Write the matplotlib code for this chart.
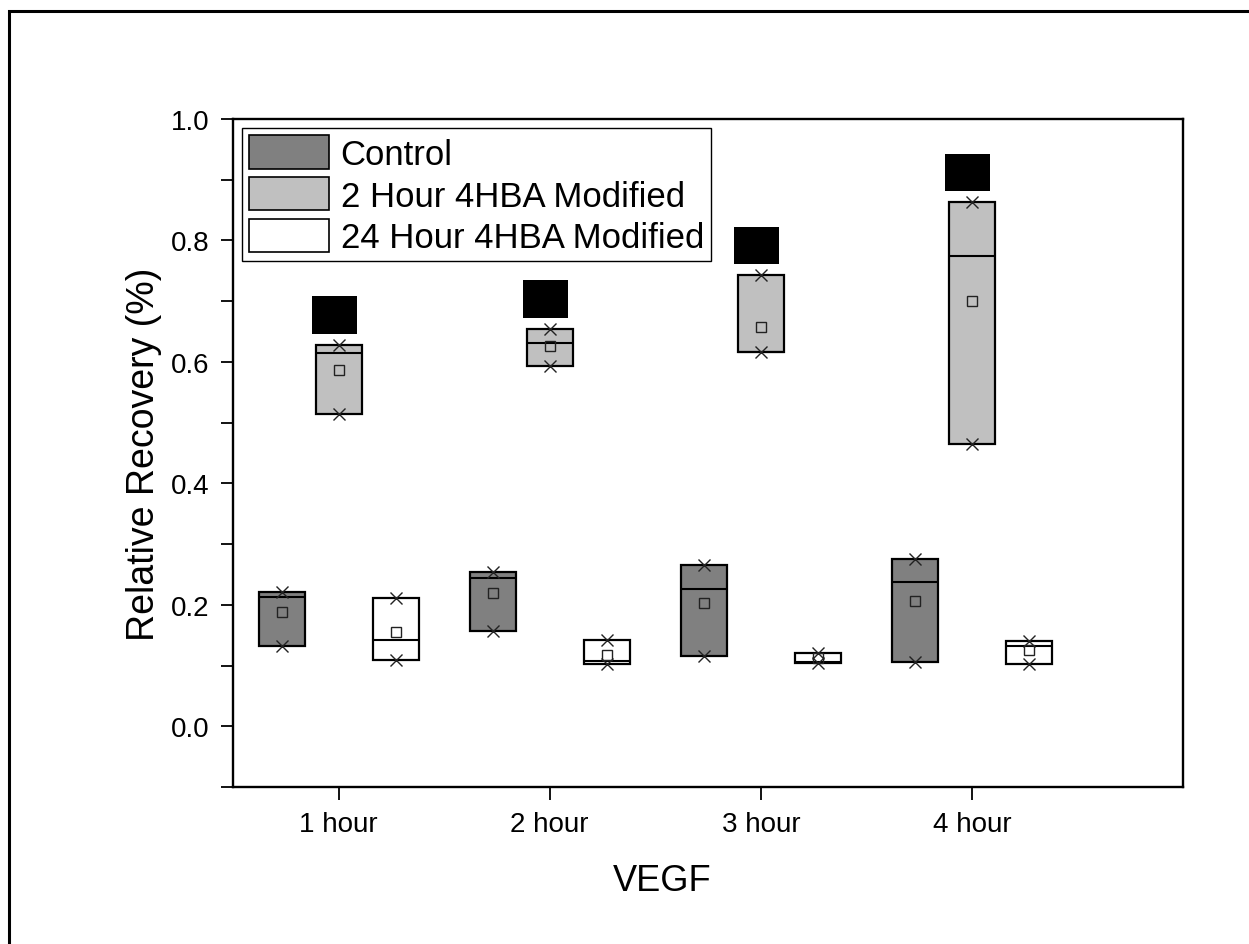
import matplotlib
matplotlib.use("Agg")
import matplotlib.pyplot as plt
from matplotlib.patches import Rectangle, Patch
from matplotlib.ticker import MultipleLocator
import numpy as np

plt.rcParams['font.family'] = ['Liberation Sans', 'DejaVu Sans']

# VEGF recovery, box = min..max, line = median, square = mean
timepoints = ["1 hour", "2 hour", "3 hour", "4 hour"]
groups = ["Control", "2 Hour 4HBA Modified", "24 Hour 4HBA Modified"]

control_min = [0.132, 0.157, 0.115, 0.106]
control_max = [0.221, 0.254, 0.265, 0.276]
control_median = [0.213, 0.245, 0.226, 0.237]
control_mean = [0.189, 0.219, 0.203, 0.206]

mod2h_min = [0.515, 0.593, 0.616, 0.465]
mod2h_max = [0.628, 0.655, 0.743, 0.863]
mod2h_median = [0.615, 0.631, 0.617, 0.775]
mod2h_mean = [0.587, 0.626, 0.658, 0.700]

mod24h_min = [0.110, 0.102, 0.105, 0.102]
mod24h_max = [0.211, 0.142, 0.120, 0.140]
mod24h_median = [0.142, 0.107, 0.106, 0.132]
mod24h_mean = [0.155, 0.117, 0.112, 0.125]

colors = ["#808080", "#c0c0c0", "#ffffff"]

fig = plt.figure(figsize=(12.49, 9.45), dpi=100)
ax = fig.add_axes([0.1866, 0.1661, 0.7606, 0.7069])

# page border
fig.patches.append(Rectangle((9 / 1249, -0.2), 1.5, 1.2 - 12 / 945,
                             transform=fig.transFigure, fill=False,
                             edgecolor="black", linewidth=2.2, zorder=0))

x = np.arange(1, len(timepoints) + 1)
offsets = [-0.27, 0.0, 0.27]
width = 0.218

series = [
    (control_min, control_max, control_median, control_mean),
    (mod2h_min, mod2h_max, mod2h_median, mod2h_mean),
    (mod24h_min, mod24h_max, mod24h_median, mod24h_mean),
]

for (lo, hi, med, mean), off, col in zip(series, offsets, colors):
    lo = np.array(lo)
    hi = np.array(hi)
    pos = x + off
    ax.bar(pos, hi - lo, bottom=lo, width=width, color=col,
           edgecolor="black", linewidth=1.6, zorder=2)
    ax.hlines(med, pos - width / 2, pos + width / 2, color="black",
              linewidth=1.5, zorder=3)
    ax.plot(pos, mean, linestyle="none", marker="s", markersize=7,
            markerfacecolor="none", markeredgecolor="#222222",
            markeredgewidth=1.0, zorder=4)
    ax.plot(np.concatenate([pos, pos]), np.concatenate([lo, hi]),
            linestyle="none", marker="x", markersize=8, color="#222222",
            markeredgewidth=1.0, zorder=4)

# significance blocks above the 2 hour modified boxes
sig_bottom = np.array(mod2h_max) + 0.018
ax.bar(x - 0.02, 0.062, bottom=sig_bottom, width=0.213, color="black",
       linewidth=0, zorder=3)

ax.set_xlim(0.5, 5.0)
ax.set_ylim(-0.1, 1.0)
ax.set_xticks(x)
ax.set_xticklabels(timepoints)
ax.yaxis.set_major_locator(MultipleLocator(0.2))
ax.yaxis.set_minor_locator(MultipleLocator(0.1))
ax.yaxis.set_major_formatter(plt.FormatStrFormatter("%.1f"))

ax.tick_params(axis="both", which="both", direction="out", length=9,
               width=1.3, labelsize=20, pad=8)
ax.tick_params(axis="x", which="minor", bottom=False)
for s in ax.spines.values():
    s.set_linewidth(1.7)

ax.set_xlabel("VEGF", fontsize=26)
ax.set_ylabel("Relative Recovery (%)", fontsize=27)
ax.xaxis.set_label_coords(0.452, -0.113)
ax.yaxis.set_label_coords(-0.075, 0.5)

handles = [Patch(facecolor=c, edgecolor="black", linewidth=1.2) for c in colors]
leg = ax.legend(handles, groups, loc="upper left", fontsize=25,
                handlelength=2.3, handleheight=1.1, handletextpad=0.33,
                labelspacing=0.18, borderpad=0.2, borderaxespad=0.27,
                fancybox=False, framealpha=1, edgecolor="black")
leg.get_frame().set_linewidth(1.0)

fig.savefig("out.png", dpi=100)
